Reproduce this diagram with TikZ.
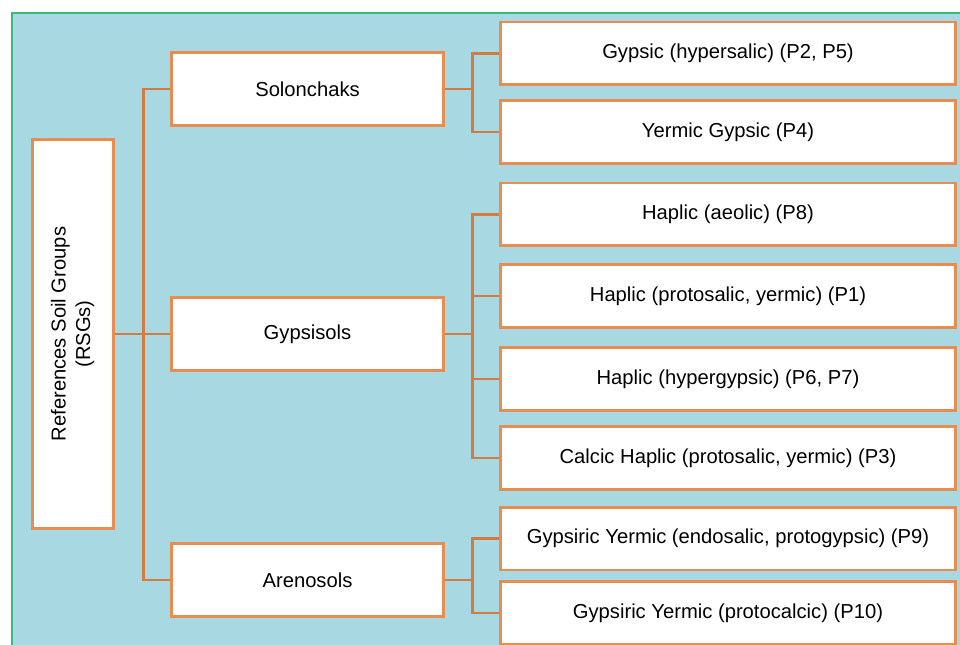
\documentclass[tikz,border=0pt]{standalone}
\usepackage{fontspec}
\setmainfont{Liberation Sans}
\usepackage{tikz}
\usetikzlibrary{arrows.meta,positioning,calc}
\definecolor{panelblue}{HTML}{A8D9E2}
\definecolor{panelgreen}{HTML}{3CB878}
\definecolor{boxorange}{HTML}{E88D52}
\definecolor{lineorange}{HTML}{D27C42}

\begin{document}
\begin{tikzpicture}[x=0.02cm,y=-0.02cm,font=\fontsize{11.5}{14}\selectfont,
		rsgbox/.style={draw=boxorange,line width=1.7pt,fill=white,minimum width=1.64cm,minimum height=7.8cm,inner sep=0pt},
		groupbox/.style={draw=boxorange,line width=1.7pt,fill=white,minimum width=5.46cm,minimum height=1.46cm},
		unitbox/.style={draw=boxorange,line width=1.7pt,fill=white,minimum width=9.1cm,minimum height=1.26cm},
		link/.style={draw=lineorange,line width=1.6pt}]
			\useasboundingbox (0,0) rectangle (960,645);
			\fill[panelblue] (12,13) rectangle (960,645);
			\draw[panelgreen,line width=1.2pt] (12,645) -- (12,13) -- (960,13);
			% reference soil groups
			\node[rsgbox] (rsg) at (73,334) {\rotatebox{90}{\begin{tabular}{@{}c@{}}References Soil Groups\\(RSGs)\end{tabular}}};
			\node[groupbox] (solon) at (307.5,89) {Solonchaks};
			\node[groupbox] (gypsi) at (307.5,334) {Gypsisols};
			\node[groupbox] (areno) at (307.5,580) {Arenosols};
			% qualifiers
			\node[unitbox] (sol1) at (728,53.5) {Gypsic (hypersalic) (P2, P5)};
			\node[unitbox] (sol2) at (728,132) {Yermic Gypsic (P4)};
			\node[unitbox] (gyp1) at (728,214.5) {Haplic (aeolic) (P8)};
			\node[unitbox] (gyp2) at (728,296) {Haplic (protosalic, yermic) (P1)};
			\node[unitbox] (gyp3) at (728,379) {Haplic (hypergypsic) (P6, P7)};
			\node[unitbox] (gyp4) at (728,458) {Calcic Haplic (protosalic, yermic) (P3)};
			\node[unitbox] (are1) at (728,538.5) {Gypsiric Yermic (endosalic, protogypsic) (P9)};
			\node[unitbox] (are2) at (728,613) {Gypsiric Yermic (protocalcic) (P10)};
			% connectors
			\draw[link] (rsg.east) -- ++(28,0) |- (solon.west);
			\draw[link] (rsg.east) -- (gypsi.west);
			\draw[link] (rsg.east) -- ++(28,0) |- (areno.west);
			\draw[link] (solon.east) -- ++(27,0) |- (sol1.west);
			\draw[link] (solon.east) -- ++(27,0) |- (sol2.west);
			\draw[link] (gypsi.east) -- ++(27,0) |- (gyp1.west);
			\draw[link] (gypsi.east) -- ++(27,0) |- (gyp2.west);
			\draw[link] (gypsi.east) -- ++(27,0) |- (gyp3.west);
			\draw[link] (gypsi.east) -- ++(27,0) |- (gyp4.west);
			\draw[link] (areno.east) -- ++(27,0) |- (are1.west);
			\draw[link] (areno.east) -- ++(27,0) |- (are2.west);
		\end{tikzpicture}
\end{document}
